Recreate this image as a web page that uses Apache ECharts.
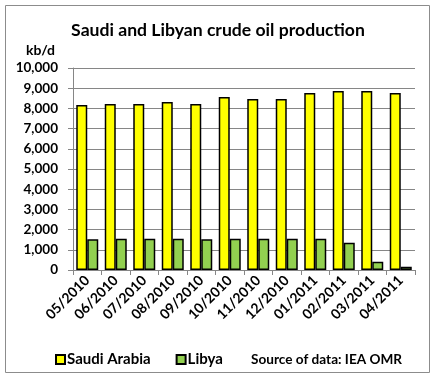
<!DOCTYPE html>
<html>
<head>
<meta charset="utf-8">
<script src="https://cdn.jsdelivr.net/npm/echarts@6/dist/echarts.min.js"></script>
<style>
html,body{margin:0;padding:0;background:#fff;}
#c{width:436px;height:384px;}
</style>
</head>
<body>
<div id="c"></div>
<script>
const categories = ['05/2010','06/2010','07/2010','08/2010','09/2010','10/2010','11/2010','12/2010','01/2011','02/2011','03/2011','04/2011'];
const saudiArabia = [8170, 8220, 8220, 8320, 8220, 8560, 8470, 8470, 8760, 8860, 8860, 8760];
const libya = [1520, 1550, 1550, 1550, 1520, 1550, 1550, 1550, 1550, 1350, 410, 165];
const yTicks = [0, 1000, 2000, 3000, 4000, 5000, 6000, 7000, 8000, 9000, 10000];

const FONT = 'Lato';
const chart = echarts.init(document.getElementById('c'), null, {renderer:'canvas'});
chart.setOption({
  animation: false,
  backgroundColor: '#fff',
  textStyle: {fontFamily: FONT, fontWeight: 'bold', color: '#000'},
  title: [{
    text: 'Saudi and Libyan crude oil production',
    left: 'center', top: 16,
    textStyle: {fontFamily: FONT, fontWeight: 'bold', fontSize: 17.6, color: '#000'}
  }, {
    text: 'kb/d', left: 21, top: 38,
    textStyle: {fontFamily: FONT, fontWeight: 'bold', fontSize: 14, color: '#000'}
  }, {
    text: 'Source of data: IEA OMR', left: 246, top: 348,
    textStyle: {fontFamily: FONT, fontWeight: 'bold', fontSize: 13.6, color: '#000'}
  }],
  legend: {
    left: 50, top: 347,
    itemWidth: 9, itemHeight: 9, itemGap: 25,
    icon: 'rect',
    textStyle: {fontFamily: FONT, fontWeight: 'bold', fontSize: 15, color: '#000', padding: [0,0,0,-3]},
    data: ['Saudi Arabia', 'Libya']
  },
  graphic: [{
    type: 'rect', silent: true,
    shape: {x: 5.5, y: 5.5, width: 424, height: 367},
    style: {fill: 'none', stroke: '#8c8c8c', lineWidth: 1}
  }],
  grid: {left: 73, right: 21, top: 68, bottom: 114, containLabel: false},
  xAxis: {
    type: 'category',
    data: categories,
    axisLine: {show: true, lineStyle: {color: '#868686', width: 1}},
    axisTick: {show: true, length: 5, lineStyle: {color: '#868686'}},
    axisLabel: {rotate: 45, fontFamily: FONT, fontWeight: 'bold', fontSize: 14, color: '#000', margin: 8, interval: 0}
  },
  yAxis: {
    type: 'value',
    min: yTicks[0], max: yTicks[yTicks.length-1], interval: 1000,
    axisLine: {show: true, lineStyle: {color: '#868686', width: 1}},
    axisTick: {show: true, length: 5, lineStyle: {color: '#868686'}},
    splitLine: {show: true, lineStyle: {color: '#868686', width: 1}},
    axisLabel: {
      fontFamily: FONT, fontWeight: 'bold', fontSize: 13.5, color: '#000', margin: 15,
      formatter: v => v.toLocaleString('en-US')
    }
  },
  series: [{
    name: 'Saudi Arabia', type: 'bar', data: saudiArabia,
    barWidth: 11, barGap: '0%',
    itemStyle: {color: '#FFFF00', borderColor: '#000', borderWidth: 1.5}
  }, {
    name: 'Libya', type: 'bar', data: libya,
    barWidth: 11, barGap: '0%',
    itemStyle: {color: '#92D050', borderColor: '#000', borderWidth: 1.5}
  }]
});
</script>
</body>
</html>
